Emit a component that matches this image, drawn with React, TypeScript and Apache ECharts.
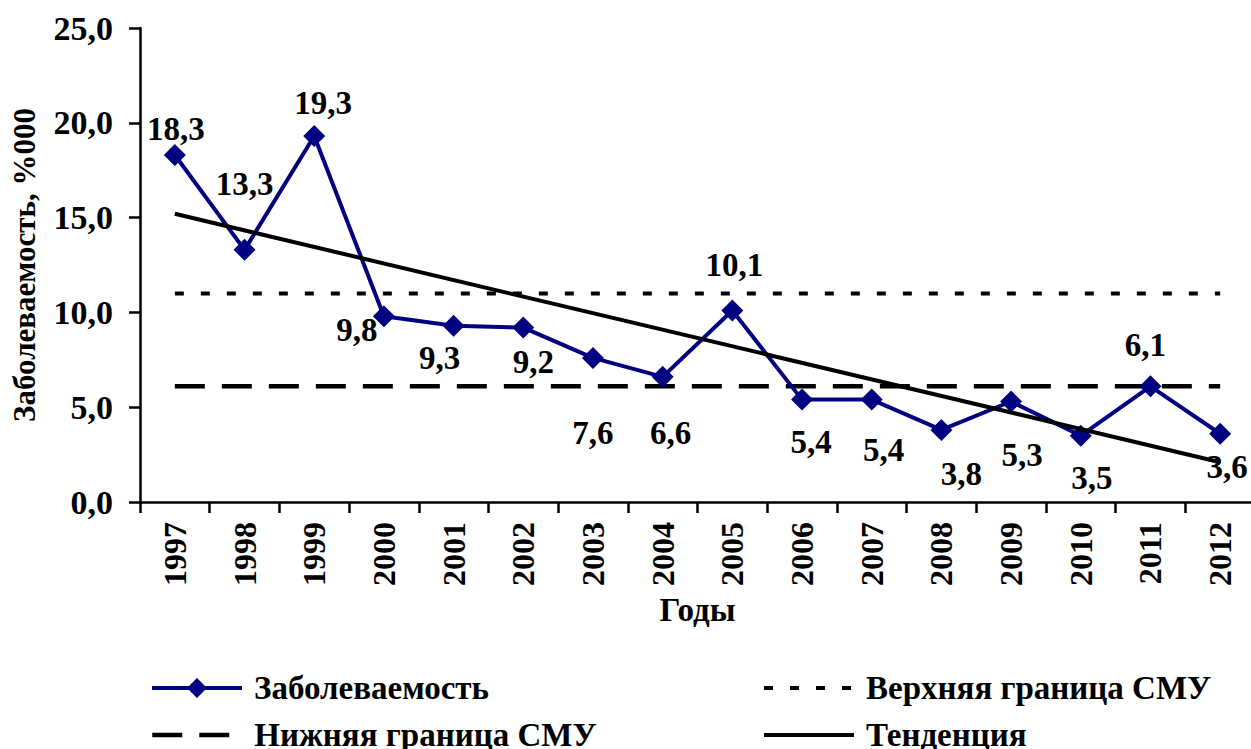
import React, { useEffect, useRef } from "react";
import * as echarts from "echarts";

const categories = ["1997", "1998", "1999", "2000", "2001", "2002", "2003", "2004", "2005", "2006", "2007", "2008", "2009", "2010", "2011", "2012"];
const incidence = [18.3, 13.3, 19.3, 9.8, 9.3, 9.2, 7.6, 6.6, 10.1, 5.4, 5.4, 3.8, 5.3, 3.5, 6.1, 3.6];
const upperBound = 11.0;
const lowerBound = 6.1;
const trendStart = 15.2;
const trendEnd = 2.1;
const yMin = 0;
const yMax = 25;
const yStep = 5;

const seriesNames = ["Заболеваемость", "Верхняя граница СМУ", "Нижняя граница СМУ", "Тенденция"];
const axisNames = { x: "Годы", y: "Заболеваемость, %000" };

// label placement offsets (style, not data)
const labelOffsets: [number, number][] = [
  [1, -26], [0, -66], [9, -33], [-27, 14], [-14, 32], [10, 34], [0, 75], [8, 56],
  [2, -46], [9, 42], [12, 50], [20, 44], [11, 53], [11, 42], [-5, -41], [7, 33],
];

const FONT = "'Liberation Serif', 'Times New Roman', serif";
const fmt = (v: number) => v.toFixed(1).replace(".", ",");

export default function App() {
  const ref = useRef<HTMLDivElement>(null);
  useEffect(() => {
    if (!ref.current) return;
    document.body.style.margin = "0";
    const chart = echarts.init(ref.current, null, { renderer: "svg" });
    const last = categories.length - 1;
    const textBase = { fontFamily: FONT, fontWeight: "bold" as const, color: "#000" };

    const legendItem = (name: string, left: number, top: number, hideSymbol: boolean, lineWidth: number) => ({
      data: [name],
      left,
      top,
      padding: 0,
      orient: "horizontal",
      itemWidth: 90,
      itemHeight: 25,
      itemStyle: hideSymbol ? { opacity: 0 } : {},
      lineStyle: { width: lineWidth },
      textStyle: { ...textBase, fontSize: 33, lineHeight: 34, padding: [0, 0, 0, 7] },
      selectedMode: false,
    });

    chart.setOption({
      animation: false,
      backgroundColor: "#fff",
      grid: { left: 140, top: 28, width: 1115, height: 474, outerBoundsMode: "none", containLabel: false },
      xAxis: {
        type: "category",
        data: categories,
        boundaryGap: true,
        name: axisNames.x,
        nameLocation: "middle",
        nameGap: 87,
        nameTextStyle: { ...textBase, fontSize: 33 },
        axisLine: { lineStyle: { color: "#000", width: 2.5 } },
        axisTick: { show: true, length: 11, lineStyle: { color: "#000", width: 2.5 } },
        axisLabel: { ...textBase, fontSize: 32, rotate: 90, margin: 20, interval: 0 },
        splitLine: { show: false },
      },
      yAxis: {
        type: "value",
        min: yMin,
        max: yMax,
        interval: yStep,
        name: axisNames.y,
        nameLocation: "middle",
        nameGap: 100,
        nameRotate: 90,
        nameTextStyle: { ...textBase, fontSize: 31 },
        axisLine: { show: true, lineStyle: { color: "#000", width: 2.5 } },
        axisTick: { show: true, length: 11, lineStyle: { color: "#000", width: 2.5 } },
        axisLabel: { ...textBase, fontSize: 34, margin: 27, formatter: (v: number) => fmt(v) },
        splitLine: { show: false },
      },
      legend: [
        legendItem(seriesNames[0], 150, 671, false, 4),
        legendItem(seriesNames[1], 762, 671, true, 4),
        legendItem(seriesNames[2], 150, 718, true, 4.5),
        legendItem(seriesNames[3], 762, 718, true, 4),
      ],
      series: [
        {
          name: seriesNames[1],
          type: "line",
          data: categories.map(() => upperBound),
          symbol: "none",
          lineStyle: { color: "#000", width: 4, type: [9, 17] },
          itemStyle: { color: "#000" },
          z: 2,
        },
        {
          name: seriesNames[2],
          type: "line",
          data: categories.map(() => lowerBound),
          symbol: "none",
          lineStyle: { color: "#000", width: 4.5, type: [30, 17] },
          itemStyle: { color: "#000" },
          z: 2,
        },
        {
          name: seriesNames[0],
          type: "line",
          data: incidence.map((v, i) => ({
            value: v,
            label: { offset: labelOffsets[i] },
          })),
          symbol: "diamond",
          symbolSize: 22,
          lineStyle: { color: "#000080", width: 4 },
          itemStyle: { color: "#000080" },
          label: {
            show: true,
            position: "inside",
            ...textBase,
            fontSize: 33,
            formatter: (p: any) => fmt(p.value),
          },
          z: 3,
        },
        {
          name: seriesNames[3],
          type: "line",
          data: categories.map((_, i) => (i === 0 ? trendStart : i === last ? trendEnd : null)),
          connectNulls: true,
          symbol: "none",
          lineStyle: { color: "#000", width: 4 },
          itemStyle: { color: "#000" },
          z: 4,
        },
      ],
    });
    return () => chart.dispose();
  }, []);
  return <div ref={ref} style={{ width: 1251, height: 749 }} />;
}
